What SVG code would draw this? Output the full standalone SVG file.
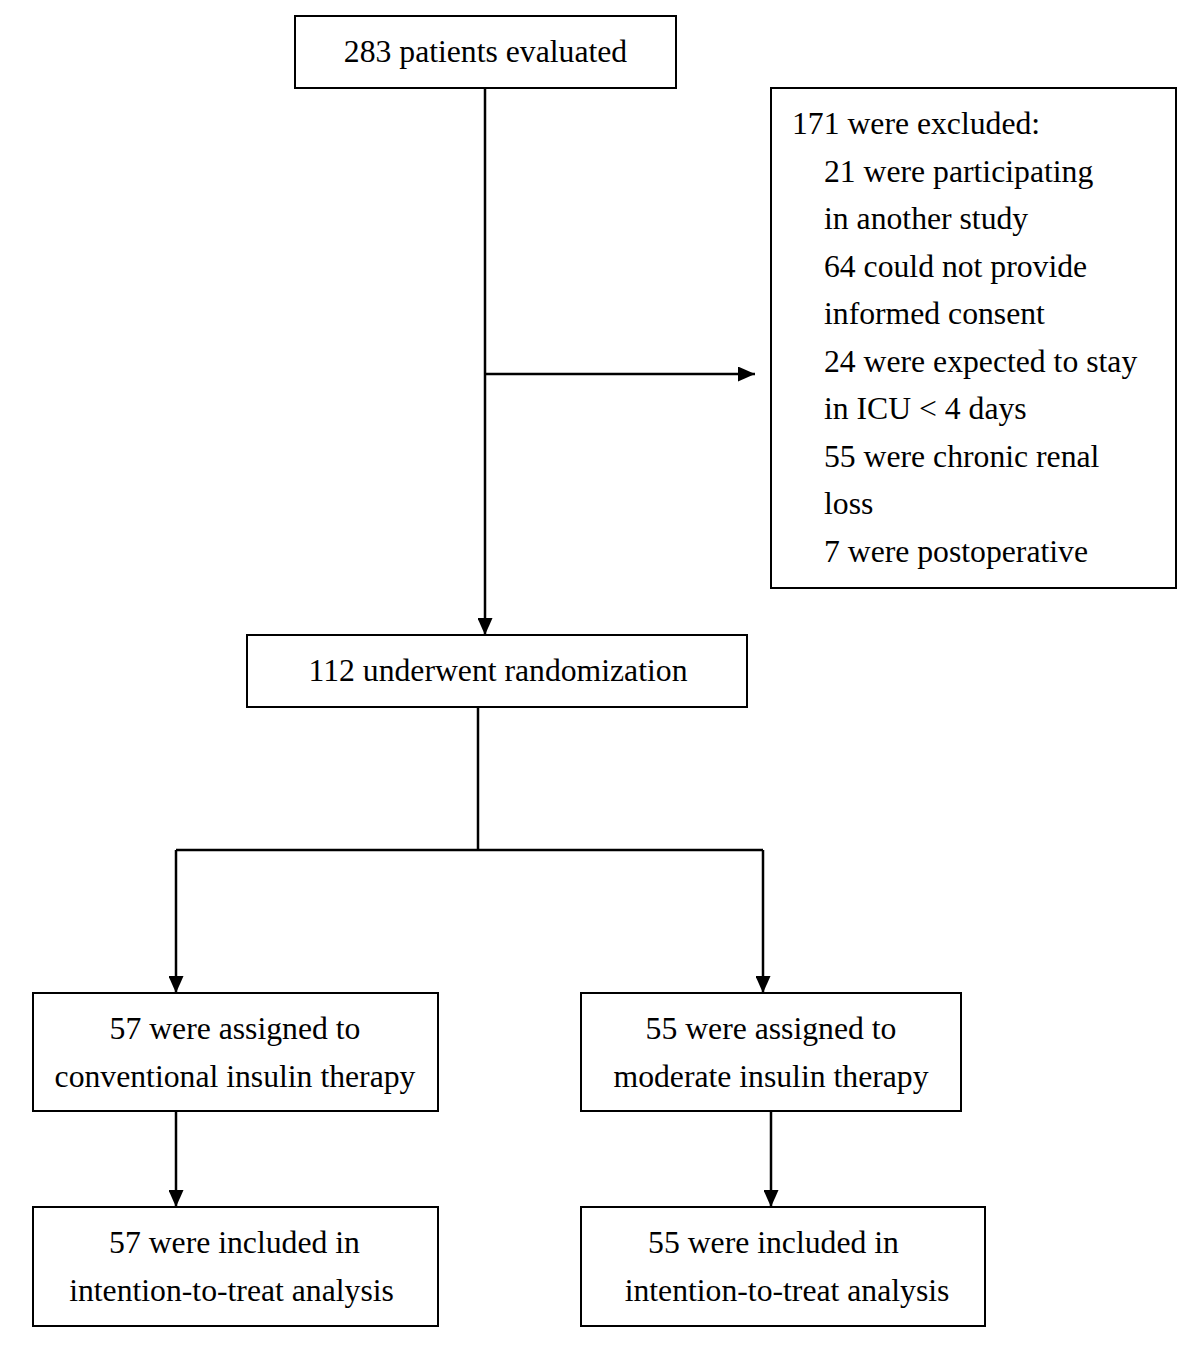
<svg xmlns="http://www.w3.org/2000/svg" width="1200" height="1346" viewBox="0 0 1200 1346">
<style>
.box{fill:#fff;stroke:#000;stroke-width:2}
.t{font-family:"Liberation Serif","Times New Roman",serif;font-size:31.7px;fill:#000}
.c{text-anchor:middle}
.ln{fill:none;stroke:#000;stroke-width:2.5}
</style>
<defs>
<marker id="ah" markerWidth="17" markerHeight="15" refX="17" refY="7.5" orient="auto" markerUnits="userSpaceOnUse">
<path d="M0,0 L17,7.5 L0,15 Z" fill="#000"/>
</marker>
</defs>
<rect width="1200" height="1346" fill="#fff"/>
<g id="connectors">
<path class="ln" d="M485,88 V635" marker-end="url(#ah)"/>
<path class="ln" d="M485,374 H755" marker-end="url(#ah)"/>
<path class="ln" d="M478,707 V850"/>
<path class="ln" d="M176,850 H763"/>
<path class="ln" d="M176,850 V993" marker-end="url(#ah)"/>
<path class="ln" d="M763,850 V993" marker-end="url(#ah)"/>
<path class="ln" d="M176,1111 V1207" marker-end="url(#ah)"/>
<path class="ln" d="M771,1111 V1207" marker-end="url(#ah)"/>
</g>
<g id="n-evaluated">
<rect class="box" x="295" y="16" width="381" height="72"/>
<text class="t c" x="485.5" y="62">283 patients evaluated</text>
</g>
<g id="n-excluded">
<rect class="box" x="771" y="88" width="405" height="500"/>
<text class="t" x="792" y="134">171 were excluded:</text>
<text class="t" x="824" y="182">21 were participating</text>
<text class="t" x="824" y="229">in another study</text>
<text class="t" x="824" y="277">64 could not provide</text>
<text class="t" x="824" y="324">informed consent</text>
<text class="t" x="824" y="372">24 were expected to stay</text>
<text class="t" x="824" y="419">in ICU &lt; 4 days</text>
<text class="t" x="824" y="467">55 were chronic renal</text>
<text class="t" x="824" y="514">loss</text>
<text class="t" x="824" y="562">7 were postoperative</text>
</g>
<g id="n-randomization">
<rect class="box" x="247" y="635" width="500" height="72"/>
<text class="t c" x="498" y="681">112 underwent randomization</text>
</g>
<g id="n-conventional">
<rect class="box" x="33" y="993" width="405" height="118"/>
<text class="t c" x="235" y="1039">57 were assigned to</text>
<text class="t c" x="235" y="1087">conventional insulin therapy</text>
</g>
<g id="n-moderate">
<rect class="box" x="581" y="993" width="380" height="118"/>
<text class="t c" x="771" y="1039">55 were assigned to</text>
<text class="t c" x="771" y="1087">moderate insulin therapy</text>
</g>
<g id="n-itt-conv">
<rect class="box" x="33" y="1207" width="405" height="119"/>
<text class="t c" x="234.5" y="1253">57 were included in</text>
<text class="t c" x="231.5" y="1301">intention-to-treat analysis</text>
</g>
<g id="n-itt-mod">
<rect class="box" x="581" y="1207" width="404" height="119"/>
<text class="t c" x="773.5" y="1253">55 were included in</text>
<text class="t c" x="787" y="1301">intention-to-treat analysis</text>
</g>
</svg>
